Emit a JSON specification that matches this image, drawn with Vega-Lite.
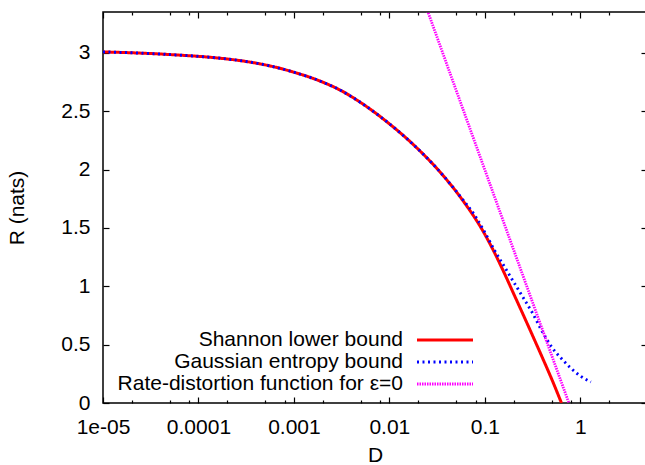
{
  "$schema": "https://vega.github.io/schema/vega-lite/v6.json",
  "width": 544,
  "height": 391,
  "autosize": "none",
  "padding": {"left": 103, "top": 12, "right": 0, "bottom": 62},
  "config": {
    "font": "Liberation Sans",
    "view": {"stroke": "#000", "strokeWidth": 1.5},
    "axis": {
      "grid": false, "domain": false, "labelFontSize": 21, "titleFontSize": 21,
      "titleFontWeight": "normal", "labelColor": "#000", "titleColor": "#000",
      "tickColor": "#000", "tickWidth": 1.2, "labelFlush": false, "labelOverlap": false,
      "labelFont": "Liberation Sans", "titleFont": "Liberation Sans"
    },
    "legend": {"labelFont": "Liberation Sans", "padding": 0}
  },
  "data": {
    "values": [
      {"series": "Shannon lower bound", "D": 0.00001, "R": 3.008},
      {"series": "Shannon lower bound", "D": 0.00001778, "R": 3.002},
      {"series": "Shannon lower bound", "D": 0.00003162, "R": 2.994},
      {"series": "Shannon lower bound", "D": 0.00005623, "R": 2.983},
      {"series": "Shannon lower bound", "D": 0.0001, "R": 2.97},
      {"series": "Shannon lower bound", "D": 0.0001778, "R": 2.952},
      {"series": "Shannon lower bound", "D": 0.0003162, "R": 2.926},
      {"series": "Shannon lower bound", "D": 0.0005623, "R": 2.888},
      {"series": "Shannon lower bound", "D": 0.001, "R": 2.834},
      {"series": "Shannon lower bound", "D": 0.001778, "R": 2.766},
      {"series": "Shannon lower bound", "D": 0.003162, "R": 2.674},
      {"series": "Shannon lower bound", "D": 0.005623, "R": 2.546},
      {"series": "Shannon lower bound", "D": 0.01, "R": 2.392},
      {"series": "Shannon lower bound", "D": 0.01778, "R": 2.215},
      {"series": "Shannon lower bound", "D": 0.03162, "R": 2.007},
      {"series": "Shannon lower bound", "D": 0.05623, "R": 1.757},
      {"series": "Shannon lower bound", "D": 0.1, "R": 1.445},
      {"series": "Shannon lower bound", "D": 0.1259, "R": 1.29},
      {"series": "Shannon lower bound", "D": 0.1585, "R": 1.12},
      {"series": "Shannon lower bound", "D": 0.1995, "R": 0.94},
      {"series": "Shannon lower bound", "D": 0.2512, "R": 0.76},
      {"series": "Shannon lower bound", "D": 0.3162, "R": 0.578},
      {"series": "Shannon lower bound", "D": 0.3981, "R": 0.394},
      {"series": "Shannon lower bound", "D": 0.5012, "R": 0.206},
      {"series": "Shannon lower bound", "D": 0.6353, "R": 0},
      {"series": "Gaussian entropy bound", "D": 0.00001, "R": 3.008},
      {"series": "Gaussian entropy bound", "D": 0.00001778, "R": 3.002},
      {"series": "Gaussian entropy bound", "D": 0.00003162, "R": 2.994},
      {"series": "Gaussian entropy bound", "D": 0.00005623, "R": 2.983},
      {"series": "Gaussian entropy bound", "D": 0.0001, "R": 2.97},
      {"series": "Gaussian entropy bound", "D": 0.0001778, "R": 2.952},
      {"series": "Gaussian entropy bound", "D": 0.0003162, "R": 2.926},
      {"series": "Gaussian entropy bound", "D": 0.0005623, "R": 2.888},
      {"series": "Gaussian entropy bound", "D": 0.001, "R": 2.834},
      {"series": "Gaussian entropy bound", "D": 0.001778, "R": 2.766},
      {"series": "Gaussian entropy bound", "D": 0.003162, "R": 2.674},
      {"series": "Gaussian entropy bound", "D": 0.005623, "R": 2.546},
      {"series": "Gaussian entropy bound", "D": 0.01, "R": 2.392},
      {"series": "Gaussian entropy bound", "D": 0.01778, "R": 2.215},
      {"series": "Gaussian entropy bound", "D": 0.03162, "R": 2.008},
      {"series": "Gaussian entropy bound", "D": 0.05623, "R": 1.762},
      {"series": "Gaussian entropy bound", "D": 0.07943, "R": 1.6},
      {"series": "Gaussian entropy bound", "D": 0.1, "R": 1.462},
      {"series": "Gaussian entropy bound", "D": 0.1259, "R": 1.31},
      {"series": "Gaussian entropy bound", "D": 0.1585, "R": 1.175},
      {"series": "Gaussian entropy bound", "D": 0.1995, "R": 1.04},
      {"series": "Gaussian entropy bound", "D": 0.2512, "R": 0.905},
      {"series": "Gaussian entropy bound", "D": 0.3162, "R": 0.77},
      {"series": "Gaussian entropy bound", "D": 0.3981, "R": 0.615},
      {"series": "Gaussian entropy bound", "D": 0.5012, "R": 0.48},
      {"series": "Gaussian entropy bound", "D": 0.631, "R": 0.383},
      {"series": "Gaussian entropy bound", "D": 0.7943, "R": 0.3},
      {"series": "Gaussian entropy bound", "D": 1.0, "R": 0.232},
      {"series": "Gaussian entropy bound", "D": 1.29, "R": 0.18},
      {"series": "Rate-distortion function for ε=0", "D": 0.02, "R": 3.584},
      {"series": "Rate-distortion function for ε=0", "D": 0.03, "R": 3.185},
      {"series": "Rate-distortion function for ε=0", "D": 0.05, "R": 2.681},
      {"series": "Rate-distortion function for ε=0", "D": 0.1, "R": 1.998},
      {"series": "Rate-distortion function for ε=0", "D": 0.2, "R": 1.314},
      {"series": "Rate-distortion function for ε=0", "D": 0.3, "R": 0.915},
      {"series": "Rate-distortion function for ε=0", "D": 0.5, "R": 0.411},
      {"series": "Rate-distortion function for ε=0", "D": 0.76, "R": 0}
    ]
  },
  "layer": [
    {
      "mark": {"type": "line", "clip": true, "interpolate": "monotone"},
      "encoding": {
        "x": {"field": "D", "type": "quantitative",
          "scale": {"type": "log", "domain": [0.00001, 5], "nice": false},
          "axis": {"orient": "bottom", "values": [0.00001, 0.0001, 0.001, 0.01, 0.1, 1],
            "labelExpr": "datum.value < 0.00005 ? '1e-05' : format(datum.value, '~g')",
            "tickSize": -6, "labelPadding": 19, "title": "D", "titlePadding": 7}},
        "y": {"field": "R", "type": "quantitative",
          "scale": {"domain": [0, 3.35], "nice": false},
          "axis": {"orient": "left", "values": [0, 0.5, 1, 1.5, 2, 2.5, 3], "format": "~g",
            "tickSize": -6, "labelPadding": 19, "title": "R (nats)", "titlePadding": 33}},
        "color": {"field": "series", "type": "nominal",
          "scale": {"domain": ["Shannon lower bound", "Gaussian entropy bound", "Rate-distortion function for ε=0"],
            "range": ["#ff0000", "#0000ff", "#ff00ff"]},
          "legend": {"orient": "none", "legendX": 330, "legendY": 316, "title": null,
            "labelAlign": "right", "labelOffset": -54, "symbolSize": 441, "symbolType": "M -2.667 0 L 2.667 0",
            "labelFontSize": 21, "labelColor": "#000", "rowPadding": 0, "labelLimit": 0, "padding": 0}},
        "strokeDash": {"field": "series", "type": "nominal",
          "scale": {"domain": ["Shannon lower bound", "Gaussian entropy bound", "Rate-distortion function for ε=0"],
            "range": [[1, 0], [2, 3.5], [1.5, 1]]},
          "legend": {"orient": "none", "legendX": 330, "legendY": 316, "title": null,
            "labelAlign": "right", "labelOffset": -54, "symbolSize": 441, "symbolType": "M -2.667 0 L 2.667 0",
            "labelFontSize": 21, "labelColor": "#000", "rowPadding": 0, "labelLimit": 0, "padding": 0}},
        "strokeWidth": {"field": "series", "type": "nominal",
          "scale": {"domain": ["Shannon lower bound", "Gaussian entropy bound", "Rate-distortion function for ε=0"],
            "range": [3, 2.8, 2]},
          "legend": {"orient": "none", "legendX": 330, "legendY": 316, "title": null,
            "labelAlign": "right", "labelOffset": -54, "symbolSize": 441, "symbolType": "M -2.667 0 L 2.667 0",
            "labelFontSize": 21, "labelColor": "#000", "rowPadding": 0, "labelLimit": 0, "padding": 0}}
      }
    },
    {
      "mark": {"type": "point", "opacity": 0},
      "encoding": {
        "x": {"field": "D", "type": "quantitative",
          "axis": {"orient": "top", "values": [0.00001, 0.0001, 0.001, 0.01, 0.1, 1],
            "labels": false, "tickSize": -6, "title": null}},
        "y": {"field": "R", "type": "quantitative",
          "axis": {"orient": "right", "values": [0, 0.5, 1, 1.5, 2, 2.5, 3],
            "labels": false, "tickSize": -6, "title": null}}
      }
    },
    {
      "mark": {"type": "point", "opacity": 0},
      "encoding": {
        "x": {"field": "D", "type": "quantitative",
          "axis": {"orient": "bottom",
            "values": [0.00002, 0.00005, 0.00008, 0.0002, 0.0005, 0.0008, 0.002, 0.005, 0.008, 0.02, 0.05, 0.08, 0.2, 0.5, 0.8, 2],
            "labels": false, "tickSize": -3, "title": null}},
        "y": {"field": "R", "type": "quantitative", "axis": null}
      }
    },
    {
      "mark": {"type": "point", "opacity": 0},
      "encoding": {
        "x": {"field": "D", "type": "quantitative",
          "axis": {"orient": "top",
            "values": [0.00002, 0.00005, 0.00008, 0.0002, 0.0005, 0.0008, 0.002, 0.005, 0.008, 0.02, 0.05, 0.08, 0.2, 0.5, 0.8, 2],
            "labels": false, "tickSize": -3, "title": null}},
        "y": {"field": "R", "type": "quantitative", "axis": null}
      }
    }
  ],
  "resolve": {"axis": {"x": "independent", "y": "independent"}}
}
